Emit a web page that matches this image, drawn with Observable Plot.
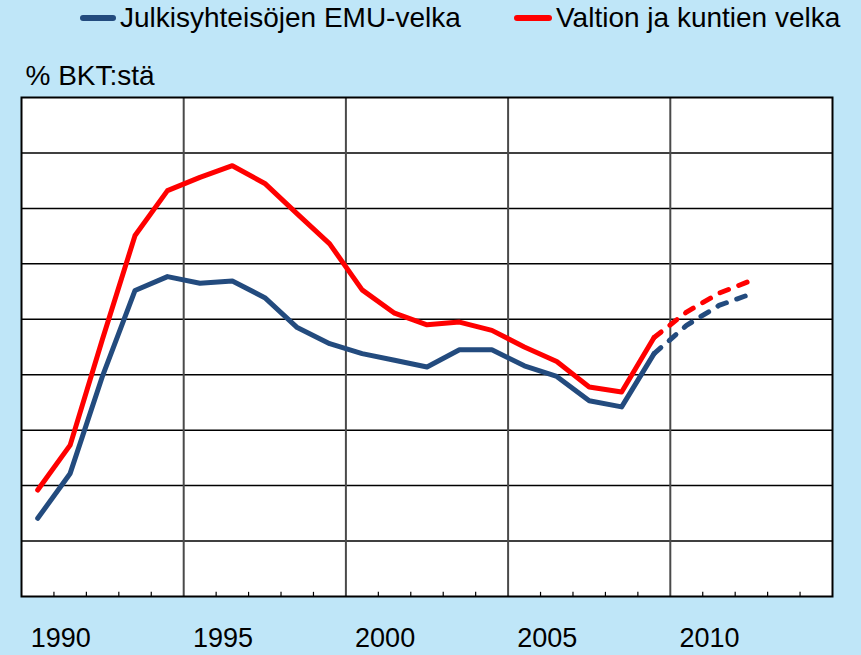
<!DOCTYPE html>
<html><head><meta charset="utf-8">
<script src="https://cdn.jsdelivr.net/npm/d3@7"></script>
<script src="https://cdn.jsdelivr.net/npm/@observablehq/plot@0.6"></script>
<style>
html,body{margin:0;padding:0;background:#BFE6F8;width:861px;height:655px;overflow:hidden;font-family:"Liberation Sans",Arial,sans-serif;}
#legend{position:relative;height:45px;}
.sw{position:absolute;top:15px;height:6px;border-radius:3px;}
.lab{position:absolute;top:2px;white-space:nowrap;line-height:31px;font-size:28px;color:#000;}
#chart svg{display:block;}
</style></head><body>
<div id="legend"></div>
<div id="chart"></div>
<script>
// ---- data ----
const years  = [1990,1991,1992,1993,1994,1995,1996,1997,1998,1999,2000,2001,2002,2003,2004,2005,2006,2007,2008,2009,2010,2011,2012];
const emu    = [14.1,22.2,39.8,55.2,57.7,56.5,56.9,53.9,48.5,45.6,43.8,42.6,41.4,44.5,44.5,41.6,39.7,35.3,34.2,43.8,48.9,52.5,54.6];
const valtio = [19.2,27.3,46.5,65.1,73.2,75.6,77.7,74.5,69.0,63.6,55.3,51.1,49.0,49.5,48.0,45.0,42.4,37.8,36.9,46.7,51.3,54.7,57.0];
const seriesNames = ["Julkisyhteisöjen EMU-velka", "Valtion ja kuntien velka"];
const seriesColors = ["#234B7E", "#FF0000"];
const lastActualYear = 2009;
const xTickLabels = [1990,1995,2000,2005,2010];
const xGridLines = [1994.5,1999.5,2004.5,2009.5];
const xMinorTicks = [1990.5,1991.5,1992.5,1993.5,1995.5,1996.5,1997.5,1998.5,2000.5,2001.5,2002.5,2003.5,2005.5,2006.5,2007.5,2008.5,2010.5,2011.5,2012.5,2013.5];
const yGridLines = [10,20,30,40,50,60,70,80];
const yLabel = "% BKT:stä";

// ---- legend ----
const legend = document.getElementById("legend");
const legendPos = [{sw:80, w:36, lab:120}, {sw:514, w:38, lab:556}];
seriesNames.forEach((name,i)=>{
  const s = document.createElement("div");
  s.className = "sw"; s.style.left = legendPos[i].sw + "px"; s.style.width = legendPos[i].w + "px";
  s.style.background = seriesColors[i];
  const t = document.createElement("div");
  t.className = "lab"; t.style.left = legendPos[i].lab + "px"; t.textContent = name;
  legend.appendChild(s); legend.appendChild(t);
});

// ---- chart ----
const data = years.flatMap((y,i)=>[
  {year:y, value:emu[i], series:seriesNames[0]},
  {year:y, value:valtio[i], series:seriesNames[1]}
]);
const actual = data.filter(d=>d.year<=lastActualYear);
const forecast = data.filter(d=>d.year>=lastActualYear);

const chart = Plot.plot({
  width:861, height:610,
  marginTop:52, marginBottom:59, marginLeft:21, marginRight:29,
  style:{background:"transparent", fontFamily:"'Liberation Sans', Arial, sans-serif", fontSize:"27px", color:"#000", overflow:"visible"},
  x:{domain:[1989.5,2014.5]},
  y:{domain:[0,90], axis:null},
  color:{domain:seriesNames, range:seriesColors},
  marks:[
    Plot.frame({fill:"white"}),
    Plot.ruleY(yGridLines, {stroke:"#000", strokeWidth:1.5}),
    Plot.ruleX(xGridLines, {stroke:"#4a4a4a", strokeWidth:2}),
    Plot.ruleX(xMinorTicks, {y1:0, y2:0.75, stroke:"#000", strokeWidth:1.2}),
    Plot.axisX(xTickLabels, {tickSize:0, tickPadding:31, dx:23, tickFormat:d=>String(d), fontSize:27, label:null, fill:"#000"}),
    Plot.line(actual, {x:"year", y:"value", z:"series", stroke:"series", strokeWidth:5, strokeLinecap:"round", strokeLinejoin:"round"}),
    Plot.line(forecast, {x:"year", y:"value", z:"series", stroke:"series", strokeWidth:5, strokeLinecap:"round", strokeLinejoin:"round", strokeDasharray:"9,11"}),
    Plot.frame({stroke:"#000", strokeWidth:2}),
    Plot.text([yLabel], {frameAnchor:"top-left", textAnchor:"start", lineAnchor:"bottom", dx:4, dy:-13, fontSize:28, fill:"#000"})
  ]
});
document.getElementById("chart").appendChild(chart);
</script></body></html>
